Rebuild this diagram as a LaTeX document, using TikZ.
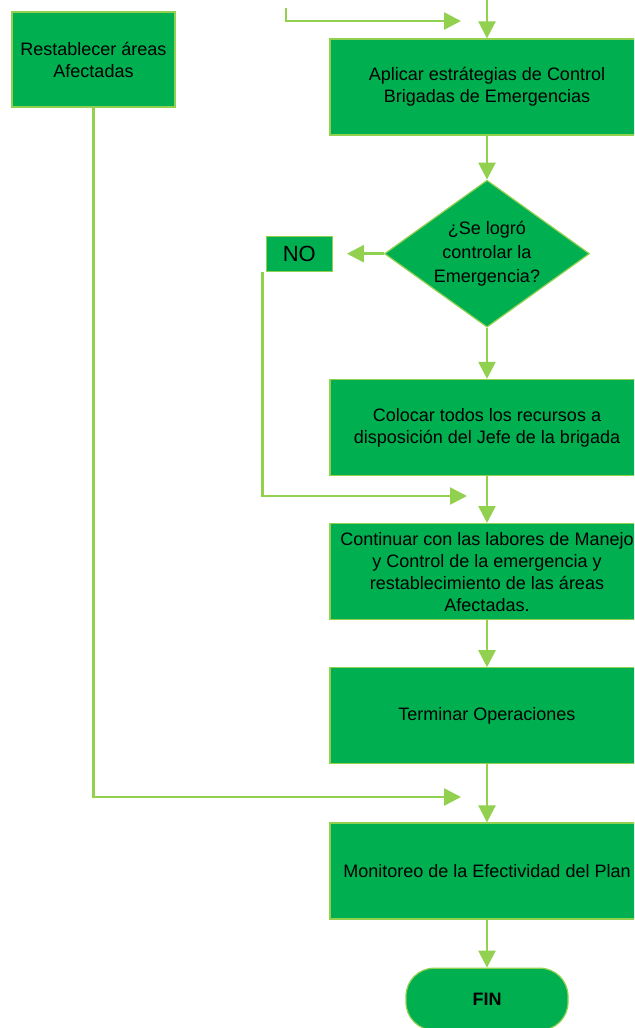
\documentclass[tikz,border=0pt]{standalone}
\usepackage{fontspec}
\setmainfont{Liberation Sans}
\usepackage{tikz}
\usetikzlibrary{arrows.meta,positioning,shapes.geometric}
\definecolor{verdecaja}{RGB}{0,176,80}
\definecolor{verdeclaro}{RGB}{146,208,80}
\tikzset{
    %Define standard arrow tip
    >={Triangle[length=8.5pt,width=8.5pt]},
    %Define style for boxes
    caja/.style={
           rectangle,
           fill=verdecaja,
           draw=verdeclaro, line width=0.6pt,
           inner sep=1pt,
           minimum width=157pt,
           minimum height=48pt,
           align=center,
           font=\fontsize{9}{11}\selectfont},
    cajachica/.style={
           caja,
           minimum width=81.5pt,
           minimum height=47.5pt},
    pregunta/.style={
           diamond,
           aspect=1.4,
           fill=verdecaja,
           draw=verdeclaro, line width=0.6pt,
           inner sep=0pt,
           minimum width=102.5pt,
           minimum height=73.5pt,
           align=center,
           font=\fontsize{9}{12}\selectfont},
    respuesta/.style={
           rectangle,
           fill=verdecaja,
           draw=verdeclaro, line width=0.6pt,
           minimum width=33pt,
           minimum height=17.5pt,
           font=\fontsize{11}{13}\selectfont},
    terminal/.style={
           rectangle,
           rounded corners=14pt,
           fill=verdecaja,
           draw=verdeclaro, line width=0.6pt,
           minimum width=81pt,
           minimum height=31pt,
           font=\fontsize{9}{11}\selectfont\bfseries},
    % Define arrow style
    flecha/.style={
           ->,
           color=verdeclaro,
           line width=1.25pt}
}

\begin{document}
\begin{tikzpicture}[x=0.5pt,y=-0.5pt]
\useasboundingbox (0,0) rectangle (634,1028);
\clip (0,0) rectangle (634,1028);

\node[cajachica] (1) at (93.5,59.5) {Restablecer áreas\\Afectadas};
\node[caja] (2) at (487,87) {Aplicar estrátegias de Control\\Brigadas de Emergencias};
\node[pregunta, below=22pt of 2] (3) {¿Se logró\\controlar la\\Emergencia?};
\node[respuesta, left=25.5pt of 3] (4) {NO};
\node[caja, below=25.5pt of 3] (5) {Colocar todos los recursos a\\disposición del Jefe de la brigada};
\node[caja, below=23.5pt of 5] (6) {Continuar con las labores de Manejo\\y Control de la emergencia y\\restablecimiento de las áreas\\Afectadas.};
\node[caja, below=23.5pt of 6] (7) {Terminar Operaciones};
\node[caja, below=29pt of 7] (8) {Monitoreo de la Efectividad del Plan};
\node[terminal, below=24pt of 8] (9) {FIN};

% loose ends of the connectors
\coordinate (a) at (286,8);
\coordinate (b) at (461,21);
\coordinate (c) at (487,0);
\coordinate (d) at (467,496);
\coordinate (e) at (461,797);

\draw[flecha] (a) |- (b);
\draw[flecha] (c) -- (2.north);
\path[flecha]
    (2) edge (3)
    (3) edge[shorten >=7pt] (4)
    (3) edge (5)
    (5) edge (6)
    (6) edge (7)
    (7) edge (8)
    (8) edge (9);
\draw[flecha] ([xshift=-1.5pt]4.south west) |- (d);
\draw[flecha] (1.south) |- (e);
\end{tikzpicture}
\end{document}
